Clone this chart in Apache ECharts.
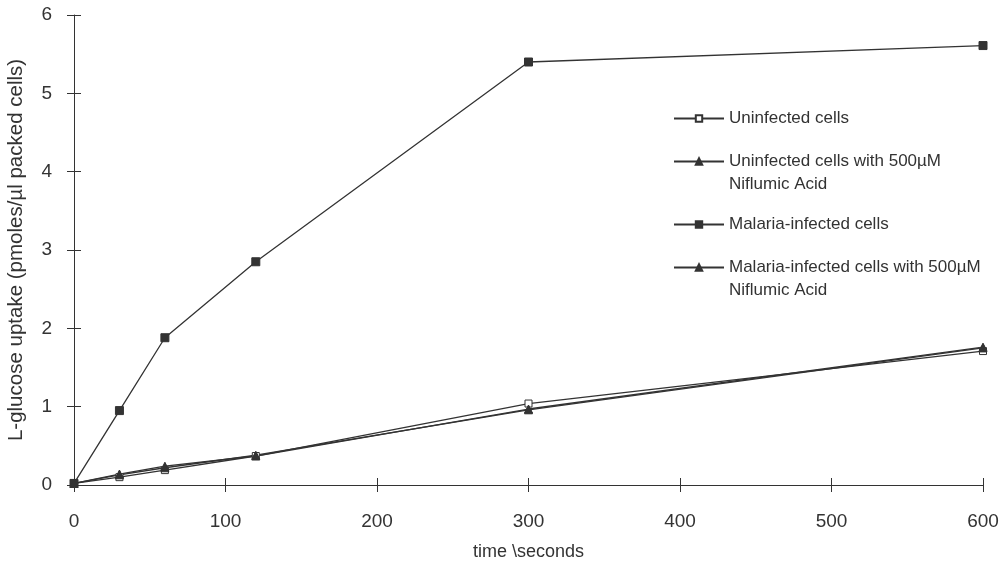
<!DOCTYPE html>
<html><head><meta charset="utf-8">
<script src="https://cdn.jsdelivr.net/npm/echarts@6/dist/echarts.min.js"></script>
<style>html,body{margin:0;padding:0;background:#fff}#c{width:1004px;height:569px}</style>
</head><body><div id="c"></div>
<script>
// time points (seconds)
const timeSeconds = [0, 30, 60, 120, 300, 600];
// L-glucose uptake (pmoles/µl packed cells)
const uninfected = [0.02, 0.10, 0.19, 0.37, 1.04, 1.71];
const uninfectedNA = [0.02, 0.14, 0.24, 0.37, 0.97, 1.76];
const malaria = [0.02, 0.95, 1.88, 2.85, 5.40, 5.61];
const malariaNA = [0.02, 0.13, 0.22, 0.38, 0.96, 1.75];

const seriesNames = [
  'Uninfected cells',
  'Uninfected cells with 500µM Niflumic Acid',
  'Malaria-infected cells',
  'Malaria-infected cells with 500µM Niflumic Acid'
];
// leading blank line keeps the marker level with the first text line
const legendLabels = [
  'Uninfected cells',
  '\nUninfected cells with 500µM\nNiflumic Acid',
  'Malaria-infected cells',
  '\nMalaria-infected cells with 500µM\nNiflumic Acid'
];
const xAxisTitle = 'time \\seconds';
const yAxisTitle = 'L-glucose uptake (pmoles/µl packed cells)';

const FONT = '"Liberation Sans", Arial, Helvetica, sans-serif';
const INK = '#333';

function pairs(ys) { return timeSeconds.map((t, i) => [t, ys[i]]); }

const legendTops = [107, 127, 213, 233];
const legends = seriesNames.map((n, i) => ({
  data: [n], left: 673, top: legendTops[i], padding: 0,
  itemWidth: 50, itemHeight: 8, selectedMode: false,
  formatter: () => legendLabels[i],
  textStyle: { fontFamily: FONT, fontSize: 17, color: INK, lineHeight: 23 }
}));

function mkSeries(name, ys, symbol, size, color) {
  return {
    name, type: 'line', data: pairs(ys), symbol, symbolSize: size,
    xAxisIndex: 0, yAxisIndex: 0,
    lineStyle: { color: INK, width: 1.3 },
    itemStyle: { color: color, borderColor: INK, borderWidth: 1 },
    emphasis: { disabled: true }
  };
}

const gridBox = { left: 74, right: 21, top: 15, bottom: 84, containLabel: false, outerBoundsMode: 'none' };
const tickStyle = { color: INK, width: 1 };

const chart = echarts.init(document.getElementById('c'), null, { renderer: 'canvas' });
chart.setOption({
  animation: false,
  backgroundColor: '#fff',
  grid: [Object.assign({}, gridBox), Object.assign({}, gridBox)],
  legend: legends,
  xAxis: [{
    gridIndex: 0, type: 'value', min: 0, max: 600, interval: 100,
    name: xAxisTitle, nameLocation: 'middle', nameGap: 58,
    nameTextStyle: { fontFamily: FONT, fontSize: 18, color: INK },
    axisLine: { show: true, onZero: false, lineStyle: { color: INK, width: 1 } },
    axisTick: { show: true, length: 7, lineStyle: tickStyle },
    axisLabel: { fontFamily: FONT, fontSize: 19, color: INK, margin: 27 },
    splitLine: { show: false }
  }, {
    gridIndex: 1, type: 'value', min: 0, max: 600, interval: 100, position: 'bottom',
    axisLine: { show: false, onZero: false }, axisLabel: { show: false },
    axisTick: { show: true, inside: true, length: 7, lineStyle: tickStyle },
    splitLine: { show: false }
  }],
  yAxis: [{
    gridIndex: 0, type: 'value', min: 0, max: 6, interval: 1,
    name: yAxisTitle, nameLocation: 'middle', nameGap: 47, nameRotate: 90,
    nameTextStyle: { fontFamily: FONT, fontSize: 20.5, color: INK },
    axisLine: { show: true, onZero: false, lineStyle: { color: INK, width: 1 } },
    axisTick: { show: true, length: 7, lineStyle: tickStyle },
    axisLabel: { fontFamily: FONT, fontSize: 19, color: INK, margin: 22 },
    splitLine: { show: false }
  }, {
    gridIndex: 1, type: 'value', min: 0, max: 6, interval: 1, position: 'left',
    axisLine: { show: false, onZero: false }, axisLabel: { show: false },
    axisTick: { show: true, inside: true, length: 7, lineStyle: tickStyle },
    splitLine: { show: false }
  }],
  series: [
    mkSeries(seriesNames[0], uninfected, 'rect', 7, '#fff'),
    mkSeries(seriesNames[1], uninfectedNA, 'triangle', 8, INK),
    mkSeries(seriesNames[2], malaria, 'rect', 8, INK),
    mkSeries(seriesNames[3], malariaNA, 'triangle', 8, INK)
  ]
});
</script></body></html>
